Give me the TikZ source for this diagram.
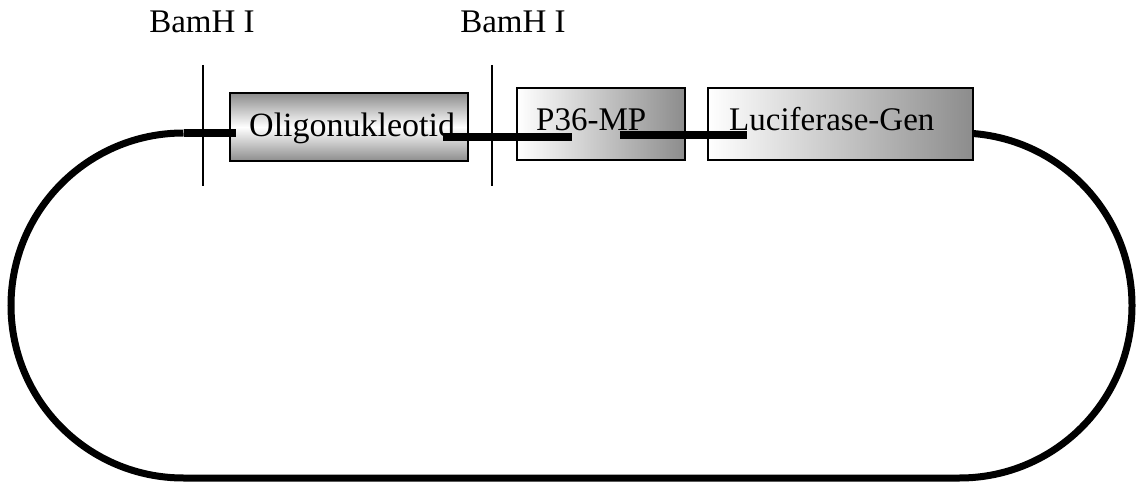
\documentclass[tikz,border=0pt]{standalone}
\usepackage{fontspec}
\setmainfont{Liberation Serif}
\begin{document}
\begin{tikzpicture}[x=1pt,y=1pt,
  gene/.style={draw=black,line width=1.8pt,inner sep=0pt,anchor=south west},
  vgrad/.style={top color=black!45,bottom color=black!45,middle color=white},
  hgrad/.style={left color=white,right color=black!45},
  lbl/.style={inner sep=0pt,anchor=base west,font=\fontsize{33}{38}\selectfont},
  site/.style={line width=1.4pt},
  dna/.style={line width=7pt},
  seg/.style={line width=8pt}]
\useasboundingbox (0,0) rectangle (1137,482);
% plasmid loop (behind the boxes)
\coordinate (l1) at (183.5,349);
\coordinate (r0) at (959.5,4);
\coordinate (r1) at (972,347);
\draw[dna] (l1) arc[start angle=90,end angle=270,radius=172.5]
  -- (r0) arc[start angle=-90,end angle=90,radius=172.5] -- (r1);
% boxes
\node[gene,vgrad,minimum width=238pt,minimum height=68pt] (oligo) at (229,320) {};
\node[gene,hgrad,minimum width=168pt,minimum height=72pt] (p36) at (516,321) {};
\node[gene,hgrad,minimum width=265pt,minimum height=72pt] (luc) at (707,321) {};
% texts
\node[lbl,font=\fontsize{34}{40}\selectfont] (toligo) at (249,345) {Oligonukleotid};
\node[lbl] (tp36) at (536,351) {P36-MP};
\node[lbl] (tluc) at (729,351) {Luciferase-Gen};
\node[lbl,anchor=base] (bam1) at (202,449) {BamH I};
\node[lbl,anchor=base] (bam2) at (513,449) {BamH I};
% restriction sites
\coordinate (s1t) at (203,417); \coordinate (s1b) at (203,296);
\coordinate (s2t) at (492,417); \coordinate (s2b) at (492,296);
\draw[site] (s1t) -- (s1b);
\draw[site] (s2t) -- (s2b);
% connecting segments
\coordinate (l0) at (236,349);
\coordinate (a1) at (443,345); \coordinate (a2) at (572,345);
\coordinate (b1) at (620,347); \coordinate (b2) at (747,347);
\draw[seg] (l1) -- (l0);
\draw[seg] (a1) -- (a2);
\draw[seg] (b1) -- (b2);
\end{tikzpicture}
\end{document}
